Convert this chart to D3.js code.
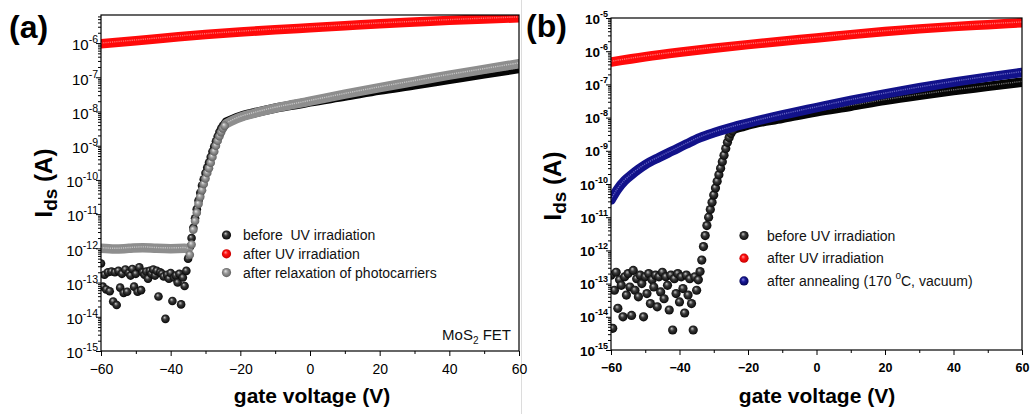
<!DOCTYPE html>
<html>
<head>
<meta charset="utf-8">
<script src="https://cdn.jsdelivr.net/npm/d3@7"></script>
<style>
  body { margin: 0; background: #fff; }
  svg { display: block; font-family: Arial, "Liberation Sans", sans-serif; }
</style>
</head>
<body>
<svg id="chart" width="1032" height="414"></svg>
<script>
// ---------- data: [gate voltage (V), drain current (A)] ----------

// (a) before UV irradiation
const aBefore = [
  [-60, 3.6e-13], [-59.5, 7.6e-14], [-59, 1.7e-13], [-58.5, 6.3e-14], [-58, 2.0e-13], [-57.5, 5.6e-14],
  [-57, 2.1e-13], [-56.5, 2.8e-14], [-56, 2.0e-13], [-55.5, 2.2e-14], [-55, 2.2e-13], [-54.5, 7.1e-14],
  [-54, 1.8e-13], [-53.5, 5.0e-14], [-53, 2.4e-13], [-52.5, 5.4e-14], [-52, 1.9e-13], [-51.5, 1.6e-13],
  [-51, 2.5e-13], [-50.5, 7.6e-14], [-50, 1.8e-13], [-49.5, 5.4e-14], [-49, 2.8e-13], [-48.5, 6.0e-14],
  [-48, 2.0e-13], [-47.5, 1.7e-13], [-47, 2.1e-13], [-46.5, 1.3e-13], [-46, 2.2e-13], [-45.5, 1.8e-13],
  [-45, 2.4e-13], [-44.5, 1.6e-13], [-44, 2.2e-13], [-43.5, 3.9e-14], [-43, 2.0e-13], [-42.5, 1.8e-13],
  [-42, 1.5e-13], [-41.5, 8.7e-15], [-41, 1.7e-13], [-40.5, 1.3e-13], [-40, 1.9e-13], [-39.5, 2.9e-14],
  [-39, 1.4e-13], [-38.5, 1.6e-13], [-38, 1.0e-13], [-37.5, 1.8e-13], [-37, 2.3e-14], [-36.5, 1.4e-13],
  [-36, 7.9e-14], [-35.5, 2.2e-13], [-35, 5.0e-13], [-34.5, 1.1e-12], [-34, 2.0e-12], [-33.5, 4.0e-12],
  [-33, 7.6e-12], [-32.5, 1.4e-11], [-32, 2.5e-11], [-31.5, 4.2e-11], [-31, 6.8e-11], [-30.5, 1.05e-10],
  [-30, 1.6e-10], [-29.5, 2.3e-10], [-29, 3.2e-10], [-28.5, 4.7e-10], [-28, 6.8e-10], [-27.5, 9.5e-10],
  [-27, 1.35e-9], [-26.5, 1.86e-9], [-26, 2.5e-9], [-25.5, 3.2e-9], [-25, 3.8e-9], [-24.5, 4.4e-9],
  [-24, 4.9e-9], [-22, 6.0e-9], [-20, 7.1e-9], [-16, 9.1e-9], [-10, 1.26e-8], [-4, 1.6e-8],
  [0, 1.9e-8], [10, 2.8e-8], [20, 4.2e-8], [30, 6.0e-8], [40, 8.7e-8], [50, 1.26e-7], [60, 1.8e-7]
];

// (a) after UV irradiation
const aAfterUV = [
  [-60, 9.5e-7], [-50, 1.17e-6], [-40, 1.45e-6], [-30, 1.78e-6], [-20, 2.1e-6], [-10, 2.45e-6],
  [0, 2.8e-6], [10, 3.2e-6], [20, 3.65e-6], [30, 4.1e-6], [40, 4.6e-6], [50, 5.05e-6], [60, 5.5e-6]
];

// (a) after relaxation of photocarriers
const aRelaxed = [
  [-60, 1.0e-12], [-56, 9.5e-13], [-52, 1.0e-12], [-48, 1.05e-12], [-44, 1.0e-12], [-40, 9.8e-13],
  [-36, 1.0e-12], [-35, 9.5e-13], [-34.5, 6.5e-13], [-34, 1.3e-12], [-33.5, 3.5e-12], [-33, 6.3e-12],
  [-32.5, 1.1e-11], [-32, 2.0e-11], [-31.5, 3.2e-11], [-31, 5.0e-11], [-30.5, 7.6e-11], [-30, 1.1e-10],
  [-29.5, 1.6e-10], [-29, 2.2e-10], [-28.5, 3.2e-10], [-28, 4.7e-10], [-27.5, 6.8e-10], [-27, 1.0e-9],
  [-26.5, 1.4e-9], [-26, 1.9e-9], [-25.5, 2.5e-9], [-25, 3.2e-9], [-24.5, 3.8e-9], [-24, 4.4e-9],
  [-22, 5.6e-9], [-20, 6.8e-9], [-16, 8.9e-9], [-10, 1.26e-8], [-4, 1.66e-8], [0, 2.0e-8],
  [10, 3.2e-8], [20, 5.0e-8], [30, 7.6e-8], [40, 1.15e-7], [50, 1.7e-7], [60, 2.5e-7]
];

// (b) before UV irradiation
const bBefore = [
  [-60, 1.8e-13], [-59.5, 4.5e-15], [-59, 6.3e-14], [-58.5, 2.2e-13], [-58, 1.8e-14], [-57.5, 1.3e-13],
  [-57, 8.9e-14], [-56.5, 1.0e-14], [-56, 1.6e-13], [-55.5, 4.5e-14], [-55, 2.0e-13], [-54.5, 7.9e-14],
  [-54, 1.1e-14], [-53.5, 2.5e-13], [-53, 6.3e-14], [-52.5, 1.4e-13], [-52, 4.0e-14], [-51.5, 1.8e-13],
  [-51, 1.0e-13], [-50.5, 1.0e-14], [-50, 1.6e-13], [-49.5, 5.0e-14], [-49, 2.0e-13], [-48.5, 2.5e-14],
  [-48, 1.3e-13], [-47.5, 7.9e-14], [-47, 1.8e-13], [-46.5, 2.0e-14], [-46, 1.6e-13], [-45.5, 5.6e-14],
  [-45, 2.2e-13], [-44.5, 3.5e-14], [-44, 1.6e-13], [-43.5, 8.9e-14], [-43, 1.6e-14], [-42.5, 1.8e-13],
  [-42, 4.0e-15], [-41.5, 1.4e-13], [-41, 5.0e-14], [-40.5, 2.0e-13], [-40, 2.8e-14], [-39.5, 1.6e-13],
  [-39, 7.1e-14], [-38.5, 1.3e-14], [-38, 1.8e-13], [-37.5, 4.5e-14], [-37, 1.4e-13], [-36.5, 2.5e-14],
  [-36, 4.0e-15], [-35.5, 1.6e-13], [-35, 6.3e-14], [-34.5, 1.3e-13], [-34, 2.3e-13], [-33.5, 5.1e-13],
  [-33, 1.3e-12], [-32.5, 2.8e-12], [-32, 5.6e-12], [-31.5, 1.0e-11], [-31, 1.7e-11], [-30.5, 2.8e-11],
  [-30, 4.7e-11], [-29.5, 7.6e-11], [-29, 1.2e-10], [-28.5, 1.9e-10], [-28, 3.0e-10], [-27.5, 4.7e-10],
  [-27, 7.4e-10], [-26.5, 1.17e-9], [-26, 1.8e-9], [-25.5, 2.5e-9], [-25, 3.3e-9], [-24.5, 4.0e-9],
  [-24, 4.6e-9], [-22, 5.2e-9], [-20, 6.0e-9], [-10, 9.5e-9], [0, 1.5e-8], [10, 2.2e-8],
  [20, 3.3e-8], [30, 4.7e-8], [40, 6.5e-8], [50, 8.7e-8], [60, 1.17e-7]
];

// (b) after UV irradiation
const bAfterUV = [
  [-60, 4.7e-7], [-50, 6.8e-7], [-40, 9.3e-7], [-30, 1.23e-6], [-20, 1.58e-6], [-10, 2.0e-6],
  [0, 2.5e-6], [10, 3.16e-6], [20, 3.9e-6], [30, 4.7e-6], [40, 5.5e-6], [50, 6.3e-6], [60, 7.2e-6]
];

// (b) after annealing (170 °C, vacuum)
const bAnnealed = [
  [-60, 3.3e-11], [-58, 7.1e-11], [-56, 1.26e-10], [-54, 1.9e-10], [-52, 2.75e-10], [-50, 3.8e-10],
  [-46, 6.3e-10], [-42, 1.0e-9], [-38, 1.6e-9], [-34, 2.5e-9], [-30, 3.5e-9], [-25, 5.0e-9],
  [-20, 6.8e-9], [-10, 1.2e-8], [0, 2.0e-8], [10, 3.3e-8], [20, 5.2e-8], [30, 7.9e-8],
  [40, 1.17e-7], [50, 1.66e-7], [60, 2.3e-7]
];

// ---------- axis ticks and labels ----------
const xMajorTicks = [-60, -40, -20, 0, 20, 40, 60];
const xMinorTicks = [-50, -30, -10, 10, 30, 50];
const yDecadesA = [1e-15, 1e-14, 1e-13, 1e-12, 1e-11, 1e-10, 1e-9, 1e-8, 1e-7, 1e-6];
const yDecadesB = [1e-15, 1e-14, 1e-13, 1e-12, 1e-11, 1e-10, 1e-9, 1e-8, 1e-7, 1e-6, 1e-5];
const legendA = ["before  UV irradiation", "after UV irradiation", "after relaxation of photocarriers"];
const legendB = ["before UV irradiation", "after UV irradiation", "after annealing (170 |o|C, vacuum)"];
const xTitle = "gate voltage (V)";

// ---------- drawing ----------
const svg = d3.select("#chart");
const defs = svg.append("defs");

function sphere(id, hi, mid, lo) {
  const g = defs.append("radialGradient").attr("id", id)
    .attr("cx", "50%").attr("cy", "50%").attr("r", "55%")
    .attr("fx", "38%").attr("fy", "32%");
  g.append("stop").attr("offset", "0%").attr("stop-color", hi);
  g.append("stop").attr("offset", "40%").attr("stop-color", mid);
  g.append("stop").attr("offset", "100%").attr("stop-color", lo);
}
sphere("sBlack", "#c8c8c8", "#3a3a3a", "#000");
sphere("sRed", "#ff9a9a", "#ff1010", "#c00000");
sphere("sGray", "#e6e6e6", "#9a9a9a", "#5a5a5a");
sphere("sBlue", "#8a8ae0", "#1a1a9a", "#00004a");

const styles = {
  black: { fill: "url(#sBlack)", band: "#050505", hl: "#6e6e6e" },
  red:   { fill: "url(#sRed)",   band: "#ff0a0a", hl: "#ff7070" },
  gray:  { fill: "url(#sGray)",  band: "#8e8e8e", hl: "#c4c4c4" },
  blue:  { fill: "url(#sBlue)",  band: "#12128a", hl: "#6262c0" }
};

const panels = [
  {
    id: "a", left: 101, right: 519, top: 15, bottom: 351,
    yDomain: [1e-15, Math.pow(10, -5.18)], decades: yDecadesA,
    bold: false, xFont: 14, yFont: 15, supFont: 10.5, r: 4.3, band: 9.5,
    series: [
      { data: aBefore,  style: "black", bands: [[-24, 60]] },
      { data: aAfterUV, style: "red",   bands: [[-60, 60]] },
      { data: aRelaxed, style: "gray",  bands: [[-60, -35], [-24, 60]] }
    ],
    legend: { labels: legendA, styles: ["black", "red", "gray"], mx: 226.5, tx: 243, y0: 235, dy: 18.8 },
    yTitle: { x: 52, y: 183 }, xTitleX: 312, tag: { x: 9, y: 38 }
  },
  {
    id: "b", left: 611, right: 1022, top: 18, bottom: 350,
    yDomain: [1e-15, 1e-5], decades: yDecadesB,
    bold: true, xFont: 12.5, yFont: 13.5, supFont: 9, r: 4.6, band: 9.5,
    series: [
      { data: bBefore,   style: "black", bands: [[-24, 60]] },
      { data: bAfterUV,  style: "red",   bands: [[-60, 60]] },
      { data: bAnnealed, style: "blue",  bands: [[-60, 60]] }
    ],
    legend: { labels: legendB, styles: ["black", "red", "blue"], mx: 744, tx: 767, y0: 235.5, dy: 22.7 },
    yTitle: { x: 561, y: 186 }, xTitleX: 817, tag: { x: 526, y: 37 }
  }
];

// faint border of the right-hand figure
svg.append("line").attr("x1", 521.5).attr("x2", 521.5).attr("y1", 0).attr("y2", 414)
  .attr("stroke", "#dcdcdc").attr("stroke-width", 1);

panels.forEach(p => {
  const x = d3.scaleLinear().domain([-60, 60]).range([p.left, p.right]);
  const y = d3.scaleLog().domain(p.yDomain).range([p.bottom, p.top]);
  const g = svg.append("g");
  const fw = p.bold ? "bold" : "normal";

  // clip to the plot frame
  defs.append("clipPath").attr("id", "clip-" + p.id)
    .append("rect").attr("x", p.left).attr("y", p.top)
    .attr("width", p.right - p.left).attr("height", p.bottom - p.top);
  const plot = g.append("g").attr("clip-path", `url(#clip-${p.id})`);

  const inBand = (s, v) => s.bands.some(([a, b]) => v >= a && v <= b);

  p.series.forEach(s => {
    const st = styles[s.style];
    // continuous stretches of the sweep: thick band with a bright core
    s.bands.forEach(([a, b]) => {
      const pts = s.data.filter(d => d[0] >= a && d[0] <= b);
      const line = d3.line().x(d => x(d[0])).y(d => y(d[1])).curve(d3.curveMonotoneX);
      plot.append("path").attr("d", line(pts)).attr("fill", "none")
        .attr("stroke", st.band).attr("stroke-width", p.band).attr("stroke-linecap", "round");
      plot.append("path").attr("d", line(pts)).attr("fill", "none")
        .attr("stroke", st.hl).attr("stroke-width", 1.4).attr("stroke-dasharray", "1.2 1")
        .attr("transform", "translate(0,-0.8)");
    });
    // individual measurement points as shaded spheres
    plot.selectAll(null).data(s.data.filter(d => !inBand(s, d[0]))).join("circle")
      .attr("cx", d => x(d[0])).attr("cy", d => y(d[1])).attr("r", p.r)
      .attr("fill", st.fill);
  });

  // frame
  g.append("rect").attr("x", p.left).attr("y", p.top)
    .attr("width", p.right - p.left).attr("height", p.bottom - p.top)
    .attr("fill", "none").attr("stroke", "#000").attr("stroke-width", 1.2);

  // x axis
  const xAx = g.append("g").attr("transform", `translate(0,${p.bottom})`)
    .call(d3.axisBottom(x).tickValues(xMajorTicks).tickSize(5).tickPadding(8)
      .tickFormat(d3.format("d")));
  xAx.select(".domain").remove();
  xAx.selectAll("text").attr("font-size", p.xFont).attr("font-weight", fw)
    .attr("font-family", "Arial, 'Liberation Sans', sans-serif").attr("fill", "#000");
  const xMin = g.append("g").attr("transform", `translate(0,${p.bottom})`)
    .call(d3.axisBottom(x).tickValues(xMinorTicks).tickSize(3).tickFormat(""));
  xMin.select(".domain").remove();

  // y axis, decades labelled as powers of ten
  const yAx = g.append("g").attr("transform", `translate(${p.left},0)`)
    .call(d3.axisLeft(y).tickValues(p.decades).tickSize(5).tickPadding(-2));
  yAx.select(".domain").remove();
  yAx.selectAll(".tick text").each(function (d) {
    const t = d3.select(this).text(null)
      .attr("font-size", p.yFont).attr("font-weight", fw).attr("fill", "#000")
      .attr("font-family", "Arial, 'Liberation Sans', sans-serif")
      .attr("dy", p.bold ? "0.38em" : "0.45em");
    t.append("tspan").text("10");
    t.append("tspan").attr("font-size", p.supFont).attr("dy", -7)
      .text(Math.round(Math.log10(d)));
  });
  const minor = [];
  p.decades.forEach(dv => { for (let k = 2; k <= 9; k++) { const v = dv * k; if (v <= p.yDomain[1]) minor.push(v); } });
  const yMin = g.append("g").attr("transform", `translate(${p.left},0)`)
    .call(d3.axisLeft(y).tickValues(minor).tickSize(3).tickFormat(""));
  yMin.select(".domain").remove();
  g.selectAll(".tick line").attr("stroke", "#000").attr("stroke-width", 1);

  // axis titles
  g.append("text").attr("x", p.xTitleX).attr("y", 403).attr("text-anchor", "middle")
    .attr("font-size", 21).attr("font-weight", "bold").text(xTitle);
  const yt = g.append("text")
    .attr("transform", `translate(${p.yTitle.x},${p.yTitle.y}) rotate(-90)`)
    .attr("text-anchor", "middle").attr("font-weight", "bold").attr("font-size", 24);
  yt.append("tspan").text("I");
  yt.append("tspan").attr("font-size", 19).attr("dy", 5).text("ds");
  yt.append("tspan").attr("dy", -5).text(" (A)");

  // panel tag
  g.append("text").attr("x", p.tag.x).attr("y", p.tag.y)
    .attr("font-size", 32).attr("font-weight", "bold").text(`(${p.id})`);

  // legend
  const L = p.legend;
  L.labels.forEach((lab, i) => {
    const cy = L.y0 + i * L.dy;
    g.append("circle").attr("cx", L.mx).attr("cy", cy).attr("r", 4.6)
      .attr("fill", styles[L.styles[i]].fill);
    const t = g.append("text").attr("x", L.tx).attr("y", cy + 5)
      .attr("font-size", 14).attr("fill", "#111").style("white-space", "pre");
    const parts = lab.split("|");
    t.append("tspan").text(parts[0]);
    if (parts.length > 1) {
      t.append("tspan").attr("font-size", 10).attr("dy", -7).text(parts[1]);
      t.append("tspan").attr("dy", 7).text(parts[2]);
    }
  });
});

// device annotation in (a)
const note = svg.append("text").attr("x", 511).attr("y", 340).attr("text-anchor", "end")
  .attr("font-size", 15).attr("fill", "#111");
note.append("tspan").text("MoS");
note.append("tspan").attr("font-size", 10).attr("dy", 4).text("2");
note.append("tspan").attr("dy", -4).text(" FET");
</script>
</body>
</html>
